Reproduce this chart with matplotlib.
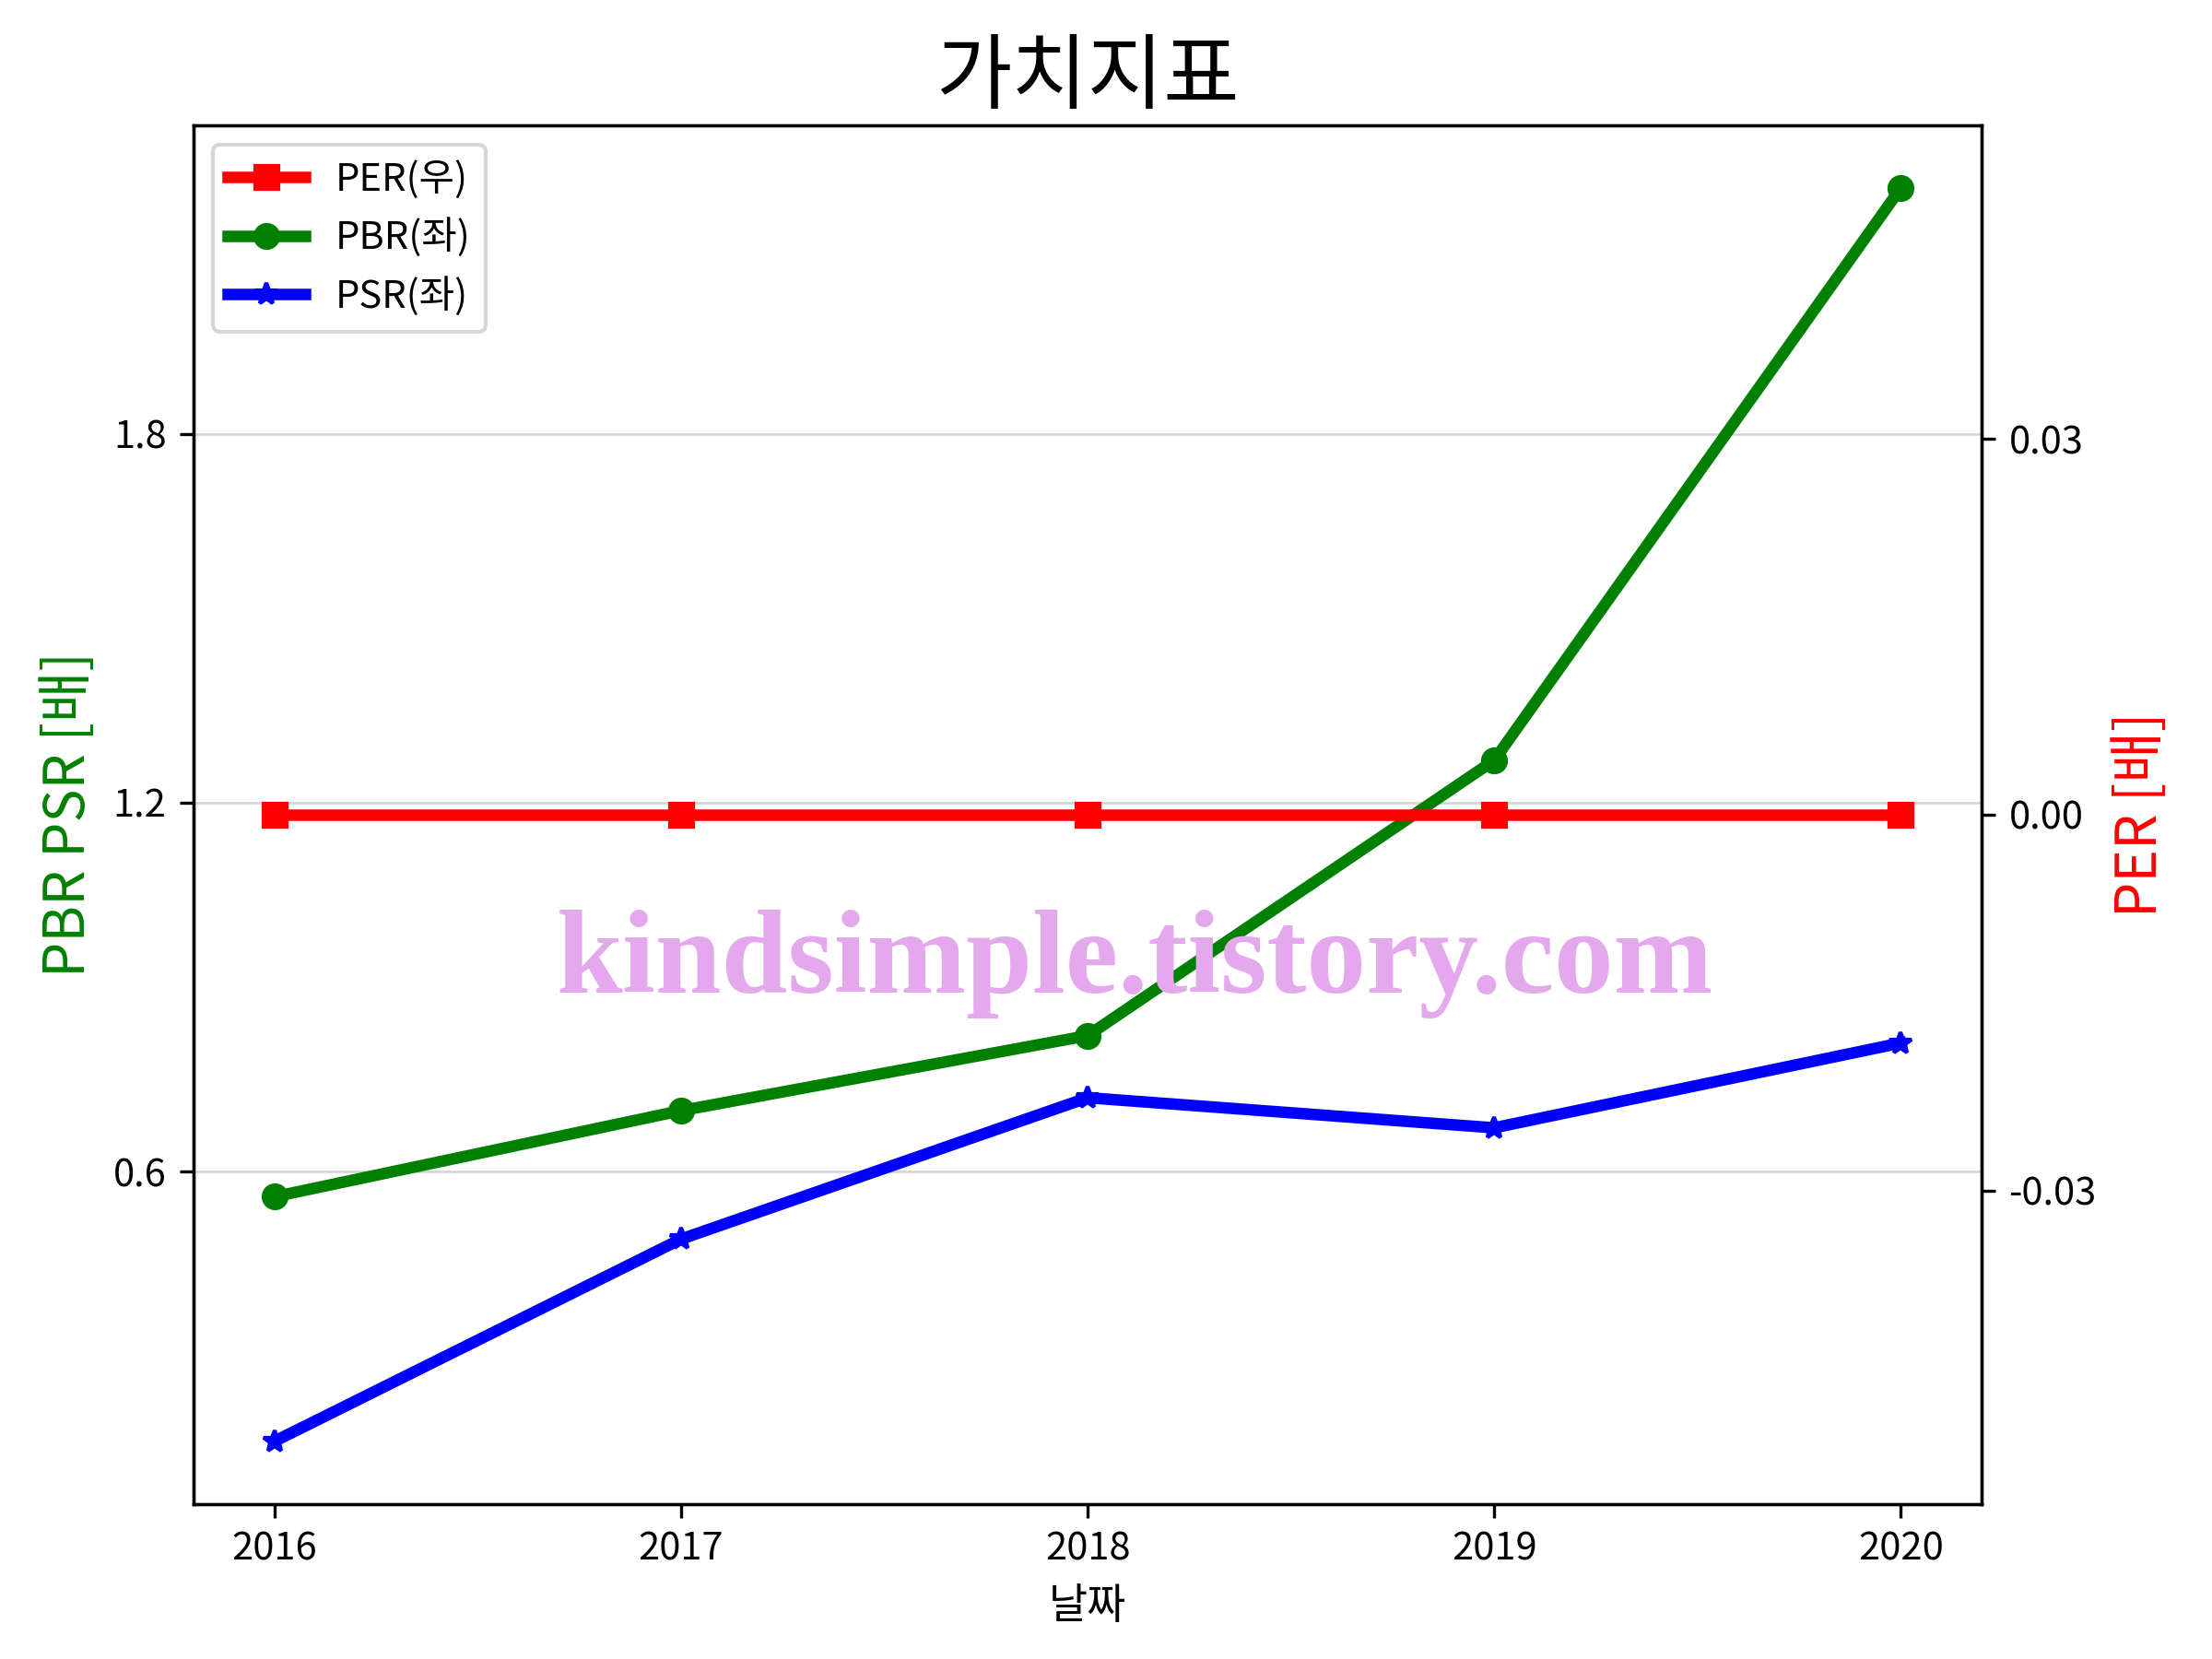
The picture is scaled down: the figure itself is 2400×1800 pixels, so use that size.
import matplotlib
matplotlib.use("Agg")
import matplotlib.pyplot as plt

plt.rcParams['font.family'] = ['Noto Sans CJK KR', 'DejaVu Sans']
plt.rcParams['axes.unicode_minus'] = False

# 데이터
years = ['2016', '2017', '2018', '2019', '2020']
per = [0.0, 0.0, 0.0, 0.0, 0.0]
pbr = [0.559, 0.699, 0.821, 1.269, 2.20]
psr = [0.161, 0.490, 0.720, 0.671, 0.809]

fig = plt.figure(figsize=(8, 6), dpi=300)
ax1 = fig.add_axes([0.0874, 0.0935, 0.8086, 0.8308])
ax2 = ax1.twinx()

l1, = ax2.plot(years, per, color='red', marker='s', linewidth=3, label='PER(우)')
l2, = ax1.plot(years, pbr, color='green', marker='o', linewidth=3, label='PBR(좌)')
l3, = ax1.plot(years, psr, color='blue', marker='*', linewidth=3, label='PSR(좌)')

ax1.set_yticks([0.6, 1.2, 1.8])
ax2.set_yticks([-0.03, 0.0, 0.03])
ax2.set_ylim(-0.055, 0.055)
ax1.grid(axis='y', color='lightgray', linewidth=0.6)

ax1.set_xlabel('날짜', fontsize=11)
ax1.set_ylabel('PBR PSR [배]', color='green', fontsize=14.5)
ax2.set_ylabel('PER [배]', color='red', fontsize=14.5)
ax1.set_title('가치지표', fontsize=21.5)

ax1.legend(handles=[l1, l2, l3], loc='upper left', fontsize=10)

# 워터마크
fig.text(0.513, 0.419, 'kindsimple.tistory.com', ha='center', va='center',
         fontsize=31, fontweight='bold', family='Liberation Serif',
         color='#E4A8EC', zorder=10)

fig.savefig('out.png', dpi=300)
